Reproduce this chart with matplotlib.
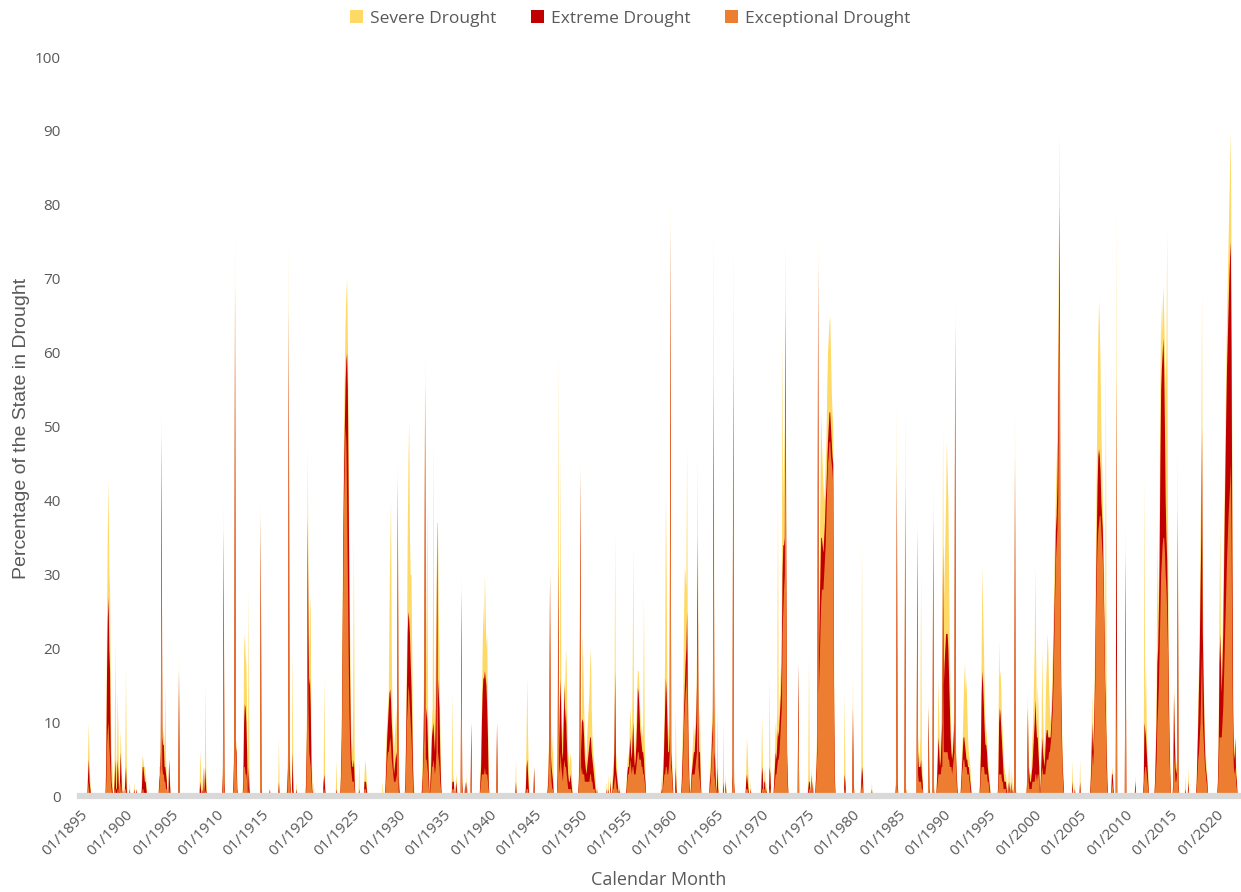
import numpy as np
import matplotlib.pyplot as plt
from matplotlib.patches import Patch

# monthly readings (percent of state area); months not listed are 0
months = """
1895-11 1895-12 1896-01 1896-02 1897-11 1897-12 1898-01 1898-02 1898-03 1898-04 1898-05 1898-06
1898-07 1898-10 1898-11 1898-12 1899-01 1899-02 1899-03 1899-05 1899-06 1899-07 1899-09 1899-12
1900-01 1900-02 1900-06 1900-12 1901-03 1901-10 1901-11 1901-12 1902-01 1902-02 1902-03 1902-04
1902-06 1903-09 1903-10 1903-11 1903-12 1904-01 1904-02 1904-03 1904-04 1904-05 1904-06 1904-07
1904-10 1904-11 1905-11 1908-03 1908-04 1908-06 1908-08 1908-10 1908-11
1910-09 1910-10 1910-11 1911-11 1911-12 1912-01 1912-02 1912-03 1912-04 1912-12 1913-01 1913-02
1913-03 1913-04 1913-05 1913-07 1913-08 1914-11 1914-12 1915-11 1916-11 1917-10 1917-11 1917-12
1918-01 1918-02 1918-05 1918-06 1918-10 1919-11 1919-12
1920-01 1920-02 1920-03 1920-04 1920-05 1920-06 1920-07 1920-09 1921-10 1921-11 1921-12 1923-03
1923-09 1923-10 1923-11 1923-12 1924-01 1924-02 1924-03 1924-04 1924-05 1924-06 1924-07 1924-08
1924-09 1924-10 1924-11 1924-12 1925-01 1925-02 1925-03 1925-09 1926-04 1926-05 1926-06 1926-07
1928-04 1928-08 1928-09 1928-10 1928-11 1928-12 1929-01 1929-02 1929-03 1929-04 1929-05 1929-06
1929-07 1929-08 1929-09 1929-10 1929-11 1929-12
1930-01 1930-02 1930-10 1930-11 1930-12 1931-01 1931-02 1931-03 1931-04 1931-05 1931-06 1931-07
1931-08 1931-09 1932-08 1932-09 1932-10 1932-11 1932-12 1933-01 1933-02 1933-03 1933-04 1933-05
1933-07 1933-08 1933-09 1933-10 1933-11 1933-12 1934-01 1934-02 1934-03 1934-04 1934-05 1934-06
1934-07 1934-08 1934-09 1935-12 1936-01 1936-02 1936-05 1936-06 1936-12 1937-01 1937-05 1937-07
1938-01 1939-01 1939-02 1939-03 1939-04 1939-05 1939-06 1939-07 1939-08 1939-09 1939-10 1939-11
1939-12
1940-11 1942-12 1944-01 1944-02 1944-03 1944-04 1944-05 1944-12 1946-06 1946-07 1946-08 1946-09
1946-10 1946-11 1946-12 1947-01 1947-07 1947-08 1947-09 1947-10 1947-11 1947-12 1948-01 1948-02
1948-03 1948-04 1948-05 1948-06 1948-07 1948-08 1948-09 1948-10 1948-11 1948-12 1949-01 1949-02
1949-11 1949-12
1950-01 1950-02 1950-03 1950-04 1950-05 1950-06 1950-07 1950-08 1950-09 1950-10 1950-11 1950-12
1951-01 1951-02 1951-03 1951-04 1951-05 1951-06 1951-07 1951-08 1951-09 1951-11 1952-12 1953-02
1953-05 1953-08 1953-09 1953-10 1953-11 1953-12 1954-01 1954-02 1954-03 1954-05 1955-02 1955-03
1955-04 1955-05 1955-06 1955-07 1955-08 1955-09 1955-10 1955-11 1955-12 1956-01 1956-02 1956-03
1956-04 1956-05 1956-06 1956-07 1956-08 1956-09 1956-10 1956-11 1956-12 1957-01 1957-02 1957-03
1958-12 1959-02 1959-03 1959-04 1959-05 1959-06 1959-07 1959-08 1959-09 1959-10 1959-11 1959-12
1960-01 1960-02 1960-03 1960-07 1960-08 1961-03 1961-04 1961-05 1961-06 1961-07 1961-08 1961-09
1961-10 1961-11 1961-12 1962-01 1962-03 1962-04 1962-05 1962-06 1962-07 1962-08 1962-09 1962-10
1962-11 1962-12 1963-01 1963-02 1963-03 1963-04 1964-04 1964-05 1964-06 1964-07 1964-08 1964-09
1964-10 1964-11 1964-12 1965-02 1965-03 1965-10 1966-01 1966-10 1966-11 1966-12 1968-04 1968-05
1968-06 1968-07 1968-10 1969-12
1970-01 1970-02 1970-04 1970-05 1970-07 1970-11 1970-12 1971-05 1971-06 1971-07 1971-08 1971-09
1971-10 1971-11 1971-12 1972-01 1972-02 1972-03 1972-04 1972-05 1972-06 1972-07 1972-08 1972-09
1972-10 1972-11 1974-01 1975-02 1975-03 1975-04 1975-06 1975-08 1975-12 1976-01 1976-02 1976-03
1976-04 1976-05 1976-06 1976-07 1976-08 1976-09 1976-10 1976-11 1976-12 1977-01 1977-02 1977-03
1977-04 1977-05 1977-06 1977-07 1977-08 1977-09 1977-10 1977-11 1977-12 1978-01 1979-02 1979-03
1980-01 1980-02 1980-12 1981-01 1981-02 1982-02 1984-10 1984-11 1984-12 1985-09 1985-10 1985-11
1987-02 1987-03 1987-04 1987-05 1987-06 1987-07 1987-08 1987-09 1988-05 1988-06 1988-11 1988-12
1989-04 1989-05 1989-06 1989-07 1989-08 1989-09 1989-10 1989-11 1989-12
1990-01 1990-02 1990-03 1990-04 1990-05 1990-06 1990-07 1990-08 1990-09 1990-10 1990-11 1990-12
1991-01 1991-02 1991-03 1991-04 1991-05 1991-06 1991-07 1991-12 1992-01 1992-02 1992-03 1992-04
1992-05 1992-06 1992-07 1992-08 1992-09 1992-10 1992-11 1992-12 1993-01 1994-01 1994-02 1994-03
1994-04 1994-05 1994-06 1994-07 1994-08 1994-09 1994-10 1994-11 1994-12 1995-01 1995-02 1996-01
1996-02 1996-03 1996-04 1996-05 1996-06 1996-07 1996-08 1996-09 1996-10 1996-11 1996-12 1997-02
1997-04 1997-06 1997-08 1997-10 1997-11 1997-12 1999-03 1999-04 1999-05 1999-06 1999-07 1999-08
1999-09 1999-10 1999-11 1999-12
2000-01 2000-02 2000-03 2000-04 2000-05 2000-06 2000-07 2000-09 2000-10 2000-11 2000-12 2001-01
2001-02 2001-03 2001-04 2001-05 2001-06 2001-07 2001-08 2001-09 2001-10 2001-11 2001-12 2002-01
2002-02 2002-03 2002-04 2002-05 2002-06 2002-07 2002-08 2002-09 2002-10 2002-11 2002-12 2003-01
2003-02 2003-03 2004-03 2004-06 2005-01 2006-03 2006-04 2006-05 2006-06 2006-07 2006-08 2006-09
2006-10 2006-11 2006-12 2007-01 2007-02 2007-03 2007-04 2007-05 2007-06 2007-07 2007-08 2007-09
2007-10 2007-11 2007-12 2008-01 2008-07 2008-08 2008-09 2009-01
2010-01 2011-02 2012-01 2012-02 2012-03 2012-04 2012-05 2012-06 2012-07 2013-04 2013-05 2013-06
2013-07 2013-08 2013-09 2013-10 2013-11 2013-12 2014-01 2014-02 2014-03 2014-04 2014-05 2014-06
2014-07 2014-08 2014-09 2014-10 2014-11 2014-12 2015-04 2015-05 2015-06 2015-07 2015-08 2015-09
2015-10 2015-11 2016-08 2016-12 2017-11 2017-12 2018-01 2018-02 2018-03 2018-04 2018-05 2018-06
2018-07 2018-08 2018-09 2018-10 2018-11 2018-12 2019-01
2020-03 2020-04 2020-05 2020-06 2020-07 2020-08 2020-09 2020-10 2020-11 2020-12 2021-01 2021-02
2021-03 2021-04 2021-05 2021-06 2021-07 2021-08 2021-09 2021-10 2021-11 2021-12 2022-01 2022-02
2022-03 2022-04
""".split()

severe = [
    # 1890s
    6, 10, 4, 2, 8, 25, 36, 43, 30, 28, 12, 6, 4, 5, 21, 6, 3, 14, 9, 4, 9, 5, 3, 4,
    # 1900s
    17, 5, 2, 2, 1, 3, 5.5, 5, 4, 4, 3, 2, 1, 4, 4, 8, 53, 10, 8, 9, 6, 15, 5, 3, 5, 3,
    19, 6, 4, 3, 4, 15, 3,
    # 1910s
    4, 40, 4, 4, 8, 76, 8, 7, 2, 4, 20, 22, 19, 18, 12, 28, 4, 40, 2, 1, 8, 3, 6, 75,
    7, 4, 20, 3, 2, 4, 12,
    # 1920s
    47, 30, 18, 27, 25, 8, 3, 2, 3, 16, 2, 5, 5, 12, 25, 40,
    50, 58, 64, 68, 70, 62, 50, 35, 22, 12, 8, 6, 12, 35, 6, 5, 3, 5, 4, 2,
    2, 4, 8, 10, 12, 14, 25, 33, 40, 20, 10, 8, 6, 8, 10, 12, 8, 46,
    # 1930s
    8, 4, 3, 10, 20, 35, 45, 51, 35, 30, 30, 20, 8, 3, 3, 6, 12, 20, 60,
    15, 25, 40, 12, 6, 4, 6, 10, 12, 48, 15, 10, 18, 25, 37, 37, 25, 20, 10, 4,
    14, 3, 2, 3, 2, 30, 3, 2, 3, 10, 3, 6, 12, 20, 26, 22, 30, 25, 20, 22, 12, 4,
    # 1940s
    10, 5, 2, 8, 16, 8, 3, 4, 2, 5, 10, 31, 12, 8, 6, 9, 5, 60, 10, 15, 47, 14,
    10, 8, 12, 16, 14, 20, 18, 10, 6, 5, 4, 6, 5, 3, 3, 8,
    # 1950s
    45, 8, 12, 22, 18, 12, 8, 6, 5, 8, 10, 12, 14, 18, 20, 12, 8, 6, 5, 4, 3, 2, 2, 3,
    3, 4, 5, 8, 36, 6, 5, 3, 2, 2, 2, 4, 6, 5, 8, 12, 10, 8, 15, 34, 8,
    6, 8, 10, 14, 17, 17, 15, 12, 10, 9, 8, 10, 27, 8, 4,
    3, 4, 6, 10, 20, 41, 30, 15, 10, 8, 10, 81,
    # 1960s
    8, 5, 3, 12, 3, 3, 8, 15, 25, 31, 30, 28, 47, 20, 8, 4,
    2, 4, 6, 8, 10, 8, 10, 12, 20, 46, 15, 10, 12, 4,
    3, 5, 8, 10, 12, 77, 10, 15, 4, 12, 3, 10, 3, 4, 75, 3, 3, 8, 6, 3, 2, 3,
    # 1970s
    11, 5, 3, 4, 2, 16, 4, 3, 6, 10, 8, 12, 40, 10, 12,
    15, 18, 25, 62, 40, 45, 50, 75, 35, 8, 3, 18, 3, 19, 3, 4, 3, 3,
    6, 12, 76, 20, 30, 40, 52, 48, 45, 42, 40, 42,
    45, 48, 55, 60, 62, 64, 65, 60, 55, 52, 50, 20, 5, 14, 3,
    # 1980s
    16, 3, 4, 34, 5, 2, 3, 53, 3, 2, 53, 2, 38, 8, 6, 5, 8, 30, 6, 3, 13, 2, 43, 2,
    3, 8, 16, 10, 6, 8, 12, 20, 50,
    # 1990s
    25, 30, 35, 40, 48, 44, 40, 30, 20, 12, 8, 6, 8, 10, 12, 67, 8, 4, 2, 3,
    6, 8, 12, 16, 18, 14, 16, 12, 8, 6, 5, 4, 2, 3, 8, 20, 31, 25, 20, 14, 10, 9, 8, 6, 4,
    3, 2, 3, 21, 16, 17, 14, 10, 8, 6, 4, 3, 3, 2, 4, 5, 4, 3, 2, 52, 2,
    3, 14, 6, 4, 3, 3, 5, 8, 10, 15,
    # 2000s
    20, 31, 18, 10, 15, 12, 6, 4, 8, 20, 12, 8, 6, 10, 15, 18, 22, 20, 15, 12, 10, 12, 15,
    20, 25, 30, 36, 41, 45, 50, 60, 75, 90, 40, 20, 10, 6, 3, 5, 2, 5,
    3, 8, 14, 8, 10, 15, 22, 35, 45, 55, 62, 67, 64, 58, 50, 45, 40, 35, 28, 20, 60, 10,
    4, 3, 4, 2, 79,
    # 2010s
    37, 3, 3, 43, 12, 18, 10, 6, 4, 3, 8, 15, 35, 25, 30, 40, 55, 67,
    62, 66, 69, 65, 60, 55, 60, 77, 40, 20, 10, 5, 3, 15, 10, 6, 4, 5, 47, 3,
    3, 4, 3, 8, 12, 18, 25, 35, 45, 68, 30, 20, 12, 8, 6, 4, 3,
    # 2020s
    3, 10, 25, 37, 20, 18, 22, 28, 35, 42, 50, 58, 65, 70, 75, 80, 85, 90, 70, 45, 20, 8,
    6, 8, 4, 3,
]

extreme = [
    # 1890s
    3, 5, 2, 1, 5, 17, 24, 27, 20, 17, 6, 2, 1, 2, 5, 1, 1, 5, 3, 2, 6, 3, 1, 2,
    # 1900s
    4, 1, 1, 1, 1, 1, 4, 4, 3, 2, 2, 1, 0, 2, 3, 6, 49, 8, 7, 7, 4, 4, 3, 2, 5, 2,
    17, 2, 1, 1, 4, 4, 1,
    # 1910s
    3, 36, 2, 2, 6, 69, 7, 6, 1, 2, 10, 12.5, 12, 10, 6, 4, 1, 38, 1, 1, 2, 1, 4, 66,
    5, 2, 6, 1, 1, 2, 9,
    # 1920s
    38, 22, 15, 16, 12, 4, 1, 0, 2, 3, 1, 1, 3, 8, 20, 35,
    44, 50, 56, 59, 60, 55, 42, 28, 16, 8, 5, 4, 4, 5, 2, 1, 2, 2, 2, 1,
    0, 2, 5, 8, 10, 12, 14, 14.5, 13, 10, 8, 5, 3, 4, 5, 6, 5, 43,
    # 1930s
    3, 1, 2, 8, 15, 22, 25, 24, 22, 18, 15, 10, 4, 1, 1, 3, 8, 15, 56,
    10, 12, 10, 6, 3, 2, 4, 8, 9, 10, 8, 6, 10, 16, 37, 16, 14, 12, 6, 2,
    2, 2, 2, 2, 1, 28, 2, 2, 2, 10, 2, 4, 10, 14, 16, 16, 17, 16, 15, 12, 8, 2,
    # 1940s
    10, 2, 1, 4, 5, 3, 1, 4, 1, 3, 8, 30, 6, 4, 3, 2, 3, 32, 6, 12, 16, 10,
    6, 5, 10, 15, 10, 12, 8, 5, 3, 2, 2, 3, 2, 1, 2, 6,
    # 1950s
    44, 6, 10, 10.5, 10, 8, 5, 4, 3, 4, 5, 6, 7, 8, 8, 6, 5, 4, 3, 2, 1, 1, 1, 1,
    2, 2, 3, 6, 17, 4, 3, 2, 1, 1, 1, 3, 4, 4, 6, 8, 6, 5, 8, 10, 6,
    4, 5, 7, 10, 14.7, 14, 12, 9, 8, 7, 6, 6, 5, 3, 2,
    1, 2, 4, 8, 12, 16, 14, 10, 6, 6, 8, 77,
    # 1960s
    6, 4, 2, 4, 1, 2, 5, 8, 12, 15, 18, 20, 25, 15, 6, 2,
    1, 3, 4, 5, 6, 6, 8, 10, 15, 35, 10, 6, 6, 2,
    2, 3, 5, 8, 10, 56, 6, 5, 2, 4, 1, 2, 2, 3, 60, 2, 2, 3, 2, 1, 1, 1,
    # 1970s
    4, 3, 2, 2, 1, 4, 3, 2, 4, 6, 5, 7, 9, 8, 10,
    12, 14, 18, 30, 34, 34, 35, 66, 30, 6, 2, 18, 1, 2, 2, 3, 2, 2,
    4, 8, 72, 18, 25, 30, 35, 35, 34, 33, 35, 37,
    40, 42, 45, 48, 50, 52, 52, 50, 48, 46, 45, 15, 3, 3, 2,
    # 1980s
    12, 2, 2, 4, 3, 1, 2, 45, 2, 1, 42, 1, 36, 6, 4, 4, 4, 5, 3, 2, 12, 1, 38, 1,
    2, 5, 8, 6, 4, 5, 8, 10, 34,
    # 1990s
    15, 18, 20, 22, 22, 22, 20, 16, 12, 8, 6, 5, 6, 8, 10, 64, 6, 3, 1, 2,
    4, 6, 8, 8, 7, 6, 5, 5, 4, 4, 3, 2, 1, 2, 6, 14, 17, 15, 12, 9, 7, 7, 6, 4, 3,
    2, 1, 2, 10, 12, 11, 9, 7, 5, 3, 2, 2, 2, 1, 2, 2, 2, 1, 2, 46, 1,
    2, 12, 4, 3, 2, 2, 3, 4, 6, 8,
    # 2000s
    10, 13, 10, 8, 8, 6, 4, 2, 5, 8, 6, 5, 4, 6, 8, 9, 9, 8, 8, 8, 8, 10, 12,
    15, 20, 25, 30, 36, 38, 42, 50, 65, 80, 30, 15, 8, 4, 2, 2, 1, 2,
    2, 5, 10, 6, 8, 12, 18, 28, 35, 42, 46, 47, 46, 44, 40, 38, 36, 30, 24, 16, 12, 6,
    2, 3, 3, 1, 57,
    # 2010s
    33, 2, 2, 10, 9, 8, 6, 4, 2, 2, 6, 10, 18, 20, 25, 32, 45, 55,
    58, 60, 62, 58, 50, 40, 35, 32, 25, 15, 8, 3, 2, 14, 8, 4, 3, 4, 39, 2,
    1, 2, 2, 6, 10, 15, 20, 28, 35, 50, 22, 16, 10, 6, 4, 3, 2,
    # 2020s
    2, 7, 18, 22, 18, 14, 18, 22, 30, 38, 45, 52, 58, 62, 66, 70, 73, 75, 60, 35, 12, 6,
    5, 8, 3, 2,
]

exceptional = [
    # 1890s
    1, 2, 0, 0, 2, 7, 9, 10, 7, 5, 2, 1, 0, 1, 1, 0, 0, 1, 1, 0, 2, 1, 0, 1,
    # 1900s
    1, 0, 0, 0, 0, 0, 1, 1, 0, 0, 0, 0, 0, 1, 3, 4, 42, 4, 3, 3, 2, 2, 1, 1, 1, 0,
    14, 0, 0, 0, 1, 1, 0,
    # 1910s
    1, 28, 1, 1, 5, 60, 6, 4, 0, 1, 4, 4, 3, 3, 2, 1, 0, 34, 0, 0, 1, 0, 2, 58,
    3, 1, 1, 0, 0, 1, 5,
    # 1920s
    28, 12, 6, 5, 4, 2, 0, 0, 1, 1, 0, 0, 2, 6, 18, 30,
    40, 45, 50, 48, 40, 30, 20, 12, 7, 4, 3, 2, 2, 2, 1, 0, 1, 1, 1, 0,
    0, 1, 3, 5, 6, 6, 7, 8, 7, 5, 4, 3, 2, 2, 2, 3, 2, 38,
    # 1930s
    1, 0, 1, 5, 10, 12, 15, 14, 12, 10, 8, 5, 2, 0, 0, 2, 5, 8, 50,
    5, 5, 4, 3, 1, 1, 2, 4, 4, 5, 4, 3, 4, 6, 30, 6, 5, 4, 2, 1,
    1, 1, 1, 1, 0, 24, 1, 1, 1, 7, 1, 2, 3, 3, 3, 3, 4, 3, 3, 3, 2, 1,
    # 1940s
    8, 0, 0, 1, 1, 1, 0, 2, 0, 2, 5, 24, 4, 2, 1, 1, 2, 25, 3, 4, 6, 4,
    3, 2, 4, 5, 4, 4, 3, 2, 1, 1, 1, 1, 1, 0, 1, 4,
    # 1950s
    38, 3, 4, 3, 3, 3, 2, 2, 2, 2, 2, 2, 2, 3, 3, 2, 2, 1, 1, 1, 0, 0, 0, 0,
    1, 1, 1, 2, 3, 2, 1, 1, 0, 0, 0, 2, 3, 3, 4, 5, 4, 3, 4, 4, 3,
    3, 3, 4, 5, 6, 6, 5, 5, 5, 4, 4, 3, 3, 2, 1,
    0, 1, 2, 3, 3, 4, 4, 3, 3, 4, 6, 70,
    # 1960s
    4, 3, 1, 1, 0, 1, 3, 6, 10, 12, 14, 15, 18, 10, 4, 1,
    0, 2, 3, 3, 3, 3, 4, 5, 6, 25, 4, 3, 2, 1,
    1, 2, 4, 6, 8, 48, 3, 2, 1, 1, 0, 1, 1, 2, 54, 1, 1, 1, 1, 0, 0, 0,
    # 1970s
    1, 1, 1, 1, 0, 1, 1, 1, 2, 3, 3, 4, 5, 5, 6,
    8, 10, 12, 22, 25, 28, 30, 55, 25, 4, 1, 14, 0, 1, 1, 2, 1, 1,
    3, 6, 60, 14, 18, 22, 26, 28, 28, 28, 30, 32,
    34, 38, 42, 45, 46, 48, 48, 46, 45, 44, 42, 10, 2, 1, 1,
    # 1980s
    8, 1, 1, 2, 1, 0, 1, 38, 1, 1, 35, 0, 30, 3, 2, 2, 2, 2, 1, 1, 9, 0, 32, 0,
    1, 2, 3, 3, 3, 3, 4, 4, 20,
    # 1990s
    6, 6, 6, 6, 6, 6, 5, 5, 4, 4, 4, 3, 4, 5, 6, 58, 4, 2, 0, 1,
    3, 4, 5, 5, 4, 4, 4, 3, 3, 3, 2, 1, 0, 1, 3, 4, 4, 4, 4, 3, 3, 3, 3, 2, 2,
    1, 0, 1, 3, 3, 3, 3, 2, 2, 1, 1, 1, 1, 0, 1, 1, 1, 0, 1, 40, 0,
    1, 8, 2, 1, 1, 1, 1, 2, 2, 2,
    # 2000s
    2, 3, 3, 2, 3, 3, 2, 1, 3, 4, 3, 3, 3, 3, 4, 5, 5, 5, 6, 6, 7, 8, 10,
    12, 16, 22, 27, 32, 34, 36, 40, 55, 70, 25, 12, 6, 3, 1, 1, 0, 1,
    1, 3, 6, 4, 6, 10, 15, 24, 30, 34, 36, 37, 38, 38, 36, 34, 32, 28, 22, 14, 10, 4,
    1, 1, 2, 0, 20,
    # 2010s
    28, 1, 1, 3, 4, 4, 3, 2, 1, 1, 3, 5, 10, 12, 15, 20, 25, 30,
    32, 34, 35, 35, 33, 30, 28, 25, 20, 12, 6, 2, 1, 6, 4, 2, 2, 3, 33, 1,
    0, 1, 1, 3, 5, 6, 8, 10, 15, 20, 10, 8, 6, 4, 3, 2, 1,
    # 2020s
    1, 4, 8, 8, 8, 8, 10, 12, 16, 20, 24, 28, 32, 35, 38, 40, 42, 45, 35, 20, 8, 4,
    3, 4, 2, 1,
]

assert len(months) == len(severe) == len(extreme) == len(exceptional)

first_year, last_month = 1895, "2022-06"
colors = {"Severe Drought": "#FFD966",
          "Extreme Drought": "#C00000",
          "Exceptional Drought": "#ED7D31"}
text_gray = "#595959"


def month_index(label):
    y, m = label.split("-")
    return (int(y) - first_year) * 12 + int(m) - 1


n = month_index(last_month) + 1
x = np.arange(n)
series = {}
for name, vals in zip(colors, [severe, extreme, exceptional]):
    full = np.zeros(n)
    for mo, v in zip(months, vals):
        full[month_index(mo)] = v
    series[name] = full

fig = plt.figure(figsize=(12.41, 8.92), dpi=100)
ax = fig.add_axes([0.0645, 0.1076, 0.933, 0.8284])

# overlapping areas, severe at the back
for name, full in series.items():
    ax.fill_between(x, 0, full, color=colors[name], linewidth=0, zorder=2)

ax.axhline(0, color="#D9D9D9", lw=4.5, zorder=3, clip_on=False)

ax.set_xlim(0, n - 1)
ax.set_ylim(0, 100)
ax.set_yticks(range(0, 101, 10))

tick_pos = [(yr - first_year) * 12 for yr in range(1895, 2021, 5)]
ax.set_xticks(tick_pos)
ax.set_xticklabels([f"01/{yr}" for yr in range(1895, 2021, 5)],
                   rotation=45, ha="right", rotation_mode="anchor",
                   fontfamily="Open Sans", fontsize=11, color=text_gray)
for lab in ax.get_yticklabels():
    lab.set_fontfamily("Open Sans")
    lab.set_fontsize(11)
    lab.set_color(text_gray)
ax.tick_params(axis="both", length=0)
ax.tick_params(axis="y", pad=14)
ax.tick_params(axis="x", pad=8)
for sp in ax.spines.values():
    sp.set_visible(False)

fig.text(0.531, 0.0135, "Calendar Month", ha="center", va="center",
         fontfamily="Open Sans", fontsize=13, color=text_gray)
fig.text(0.017, 0.52, "Percentage of the State in Drought", rotation=90,
         ha="center", va="center", fontfamily="Liberation Sans",
         fontsize=14, color=text_gray)

handles = [Patch(facecolor=c, edgecolor="none", label=k) for k, c in colors.items()]
fig.legend(handles=handles, loc="upper center", bbox_to_anchor=(0.508, 1.006),
           ncol=3, frameon=False, handlelength=0.75, handleheight=0.75,
           handletextpad=0.4, columnspacing=2.0,
           prop={"family": "Open Sans", "size": 12.5}, labelcolor=text_gray)

fig.savefig("out.png", dpi=100)
